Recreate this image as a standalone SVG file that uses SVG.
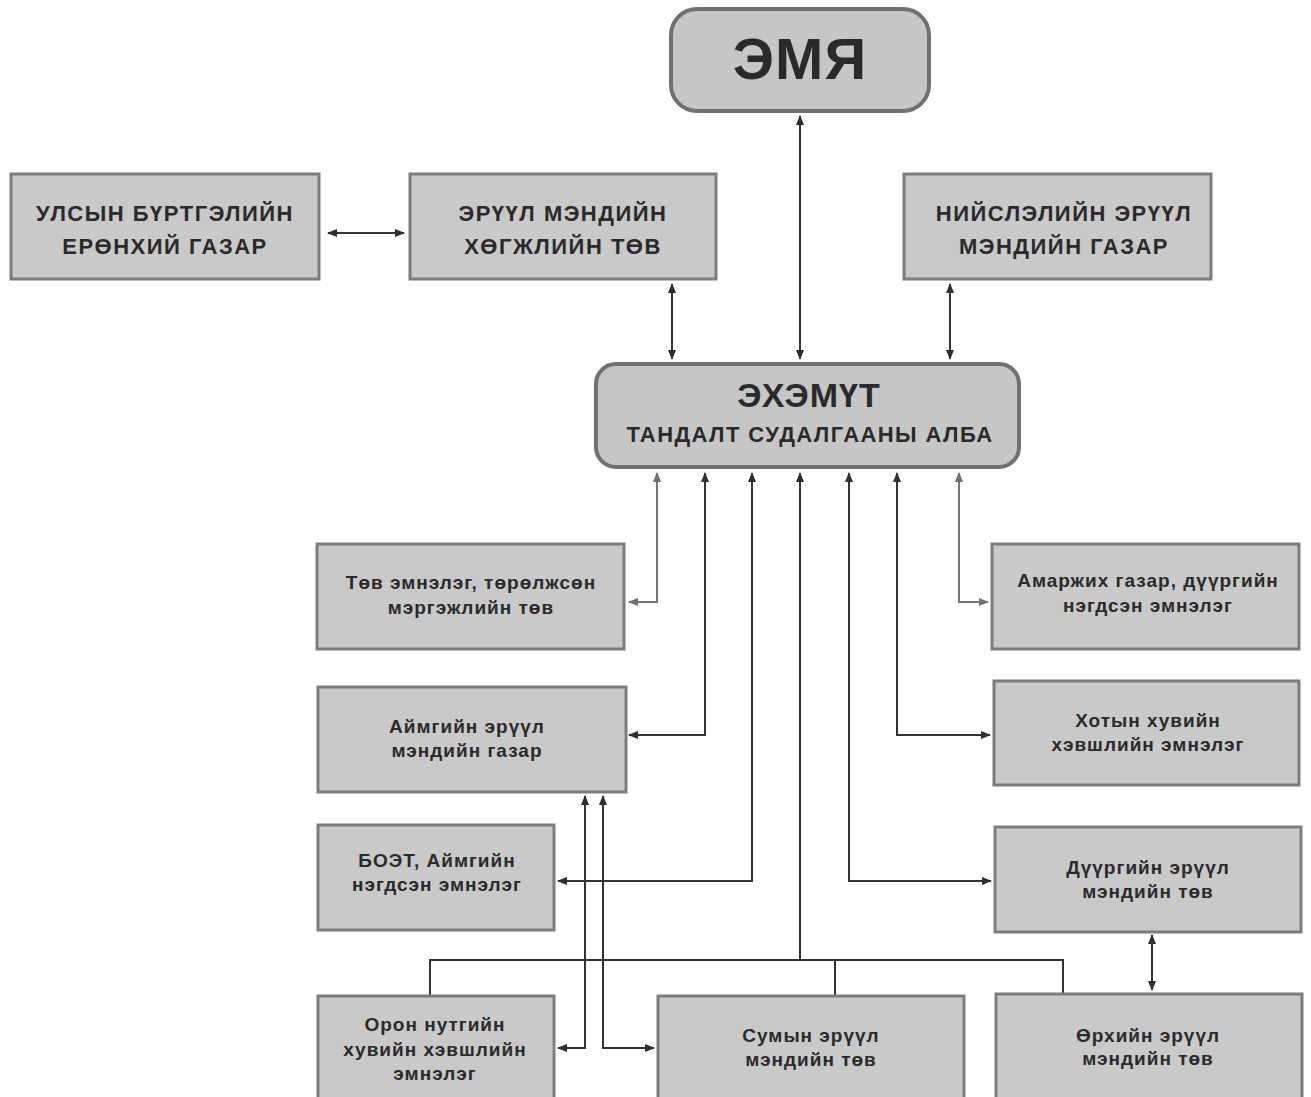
<svg xmlns="http://www.w3.org/2000/svg" width="1311" height="1097" viewBox="0 0 1311 1097">
<defs>
<marker id="ah" viewBox="0 0 10 10" refX="9" refY="5" markerWidth="10" markerHeight="10" markerUnits="userSpaceOnUse" orient="auto-start-reverse"><path d="M0,1 L10,5 L0,9 Z" fill="#2e2e2e"/></marker>
<marker id="ahg" viewBox="0 0 10 10" refX="9" refY="5" markerWidth="10" markerHeight="10" markerUnits="userSpaceOnUse" orient="auto-start-reverse"><path d="M0,1 L10,5 L0,9 Z" fill="#6e6e6e"/></marker>
</defs>
<style>
.box{fill:#c9c9c9;stroke:#7c7c7c;stroke-width:3}
.rbox{fill:#c6c6c6;stroke:#707070;stroke-width:4}
.t{font-family:"Liberation Sans",Arial,sans-serif;font-weight:bold;fill:#2a2a2a;text-anchor:middle}
.cap{font-size:22px;letter-spacing:1.5px}
.sm{font-size:19px;letter-spacing:1px}
.c{fill:none;stroke:#333;stroke-width:2}
.cg{fill:none;stroke:#777;stroke-width:2}
</style>
<rect width="1311" height="1097" fill="#ffffff"/>
<g id="connectors">
<path class="c" d="M328,233 H404" marker-start="url(#ah)" marker-end="url(#ah)"/>
<path class="c" d="M800,116 V359" marker-start="url(#ah)" marker-end="url(#ah)"/>
<path class="c" d="M672,284 V359" marker-start="url(#ah)" marker-end="url(#ah)"/>
<path class="c" d="M950,284 V359" marker-start="url(#ah)" marker-end="url(#ah)"/>
<path class="cg" d="M657,473 V602 H629" marker-start="url(#ahg)" marker-end="url(#ahg)"/>
<path class="c" d="M705,473 V735 H629" marker-start="url(#ah)" marker-end="url(#ah)"/>
<path class="c" d="M752,473 V881 H558" marker-start="url(#ah)" marker-end="url(#ah)"/>
<path class="c" d="M800,473 V960" marker-start="url(#ah)"/>
<path class="c" d="M430,995 V960 H1063 V993 M835,960 V995"/>
<path class="c" d="M849,473 V881 H991" marker-start="url(#ah)" marker-end="url(#ah)"/>
<path class="c" d="M897,473 V735 H990" marker-start="url(#ah)" marker-end="url(#ah)"/>
<path class="cg" d="M959,473 V602 H988" marker-start="url(#ahg)" marker-end="url(#ahg)"/>
<path class="c" d="M585,796 V1048 H558" marker-start="url(#ah)" marker-end="url(#ah)"/>
<path class="c" d="M603,796 V1048 H654" marker-start="url(#ah)" marker-end="url(#ah)"/>
<path class="c" d="M1152,935 V990" marker-start="url(#ah)" marker-end="url(#ah)"/>
</g>
<g id="emya"><rect class="rbox" x="671" y="9" width="258" height="102" rx="26"/><text class="t" x="800" y="79" font-size="58" letter-spacing="1">ЭМЯ</text></g>
<g id="ulsyn"><rect class="box" x="11" y="174" width="308" height="105"/><text class="t cap" x="165" y="221">УЛСЫН БҮРТГЭЛИЙН</text><text class="t cap" x="165" y="254">ЕРӨНХИЙ ГАЗАР</text></g>
<g id="eruul-hogjil"><rect class="box" x="410" y="174" width="306" height="105"/><text class="t cap" x="563" y="221">ЭРҮҮЛ МЭНДИЙН</text><text class="t cap" x="563" y="254">ХӨГЖЛИЙН ТӨВ</text></g>
<g id="niislel"><rect class="box" x="904" y="174" width="307" height="105"/><text class="t cap" x="1064" y="221">НИЙСЛЭЛИЙН ЭРҮҮЛ</text><text class="t cap" x="1064" y="254">МЭНДИЙН ГАЗАР</text></g>
<g id="ehemut"><rect class="rbox" x="596" y="364" width="423" height="103" rx="20"/><text class="t" x="809" y="407" font-size="34" letter-spacing="1">ЭХЭМҮТ</text><text class="t" x="810" y="442" font-size="22" letter-spacing="1.4">ТАНДАЛТ СУДАЛГААНЫ АЛБА</text></g>
<g id="tov-emneleg"><rect class="box" x="317" y="544" width="307" height="105"/><text class="t sm" x="471" y="589">Төв эмнэлэг, төрөлжсөн</text><text class="t sm" x="471" y="614">мэргэжлийн төв</text></g>
<g id="aimag"><rect class="box" x="318" y="687" width="308" height="105"/><text class="t sm" x="467" y="733">Аймгийн эрүүл</text><text class="t sm" x="467" y="757">мэндийн газар</text></g>
<g id="boet"><rect class="box" x="318" y="825" width="236" height="105"/><text class="t sm" x="437" y="867">БОЭТ, Аймгийн</text><text class="t sm" x="437" y="891">нэгдсэн эмнэлэг</text></g>
<g id="oron-nutag"><rect class="box" x="318" y="996" width="236" height="104"/><text class="t sm" x="435" y="1031">Орон нутгийн</text><text class="t sm" x="435" y="1056">хувийн хэвшлийн</text><text class="t sm" x="435" y="1080">эмнэлэг</text></g>
<g id="sum"><rect class="box" x="658" y="996" width="306" height="104"/><text class="t sm" x="811" y="1042">Сумын эрүүл</text><text class="t sm" x="811" y="1066">мэндийн төв</text></g>
<g id="orh"><rect class="box" x="996" y="994" width="306" height="106"/><text class="t sm" x="1148" y="1042">Өрхийн эрүүл</text><text class="t sm" x="1148" y="1065">мэндийн төв</text></g>
<g id="amarjih"><rect class="box" x="992" y="544" width="307" height="105"/><text class="t sm" x="1148" y="587">Амаржих газар, дүүргийн</text><text class="t sm" x="1148" y="612">нэгдсэн эмнэлэг</text></g>
<g id="hot"><rect class="box" x="994" y="681" width="305" height="104"/><text class="t sm" x="1148" y="727">Хотын хувийн</text><text class="t sm" x="1148" y="751">хэвшлийн эмнэлэг</text></g>
<g id="duureg"><rect class="box" x="995" y="827" width="306" height="105"/><text class="t sm" x="1148" y="874">Дүүргийн эрүүл</text><text class="t sm" x="1148" y="898">мэндийн төв</text></g>
</svg>
